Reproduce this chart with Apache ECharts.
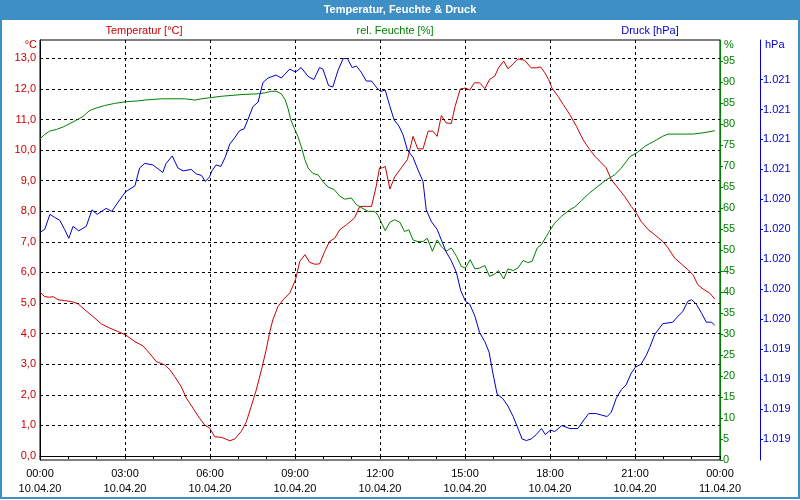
<!DOCTYPE html>
<html>
<head>
<meta charset="utf-8">
<script src="https://cdn.jsdelivr.net/npm/echarts@6/dist/echarts.min.js"></script>
<style>html,body{margin:0;padding:0;background:#fff;}#c{width:800px;height:500px;}</style>
</head>
<body>
<div id="c"></div>
<script>
// minutes after 10.04.20 00:00
const tempMinutes = [0,10,20,28,38,52,66,80,95,112,130,148,165,181,201,218,232,246,264,275,285,299,310,324,338,349,359,370,384,402,412,426,437,447,458,469,479,486,493,504,515,529,541,550,561,571,582,592,603,613,624,635,649,666,677,691,702,712,719,726,731,741,751,765,778,790,800,811,822,832,841,850,860,871,879,890,901,910,920,931,942,952,963,971,982,991,1002,1012,1026,1040,1051,1060,1069,1077,1084,1097,1108,1122,1136,1150,1164,1175,1189,1199,1210,1224,1238,1252,1263,1273,1288,1302,1319,1330,1344,1358,1372,1383,1393,1404,1418,1429];
const tempValues = [5.36,5.21,5.19,5.21,5.11,5.08,5.05,4.98,4.78,4.56,4.32,4.18,4.07,3.96,3.74,3.6,3.36,3.09,2.98,2.82,2.6,2.27,1.89,1.56,1.23,1.01,0.92,0.63,0.61,0.5,0.55,0.8,1.12,1.61,2.16,2.82,3.47,4.02,4.45,4.89,5.11,5.33,5.76,6.36,6.58,6.33,6.27,6.28,6.69,7.01,7.12,7.4,7.56,7.78,8.16,8.16,8.16,8.82,9.42,9.42,9.47,8.73,9.12,9.42,9.69,10.45,10.04,10.04,10.62,10.62,10.45,11.13,10.89,10.87,11.43,12.0,12.03,11.96,12.2,12.2,12.01,12.31,12.42,12.69,12.91,12.66,12.82,12.98,12.94,12.69,12.69,12.72,12.53,12.31,12.03,11.76,11.49,11.16,10.78,10.34,10.02,9.8,9.58,9.42,9.03,8.76,8.49,8.16,7.94,7.67,7.4,7.23,7.01,6.8,6.47,6.28,6.09,5.92,5.6,5.46,5.33,5.13];

const humMinutes = [0,10,20,35,49,63,77,91,105,119,137,158,181,208,222,257,306,310,328,342,356,384,426,462,476,490,500,511,519,525,531,538,546,553,561,568,578,589,599,610,623,635,645,659,670,682,695,709,716,731,741,751,762,772,781,790,800,811,820,831,841,850,860,871,882,892,901,911,921,931,942,952,963,971,982,991,1002,1012,1023,1033,1042,1053,1062,1072,1077,1090,1104,1122,1132,1147,1164,1182,1199,1217,1231,1249,1266,1281,1302,1319,1330,1358,1383,1404,1429];
const humValues = [76.5,77.5,78.3,78.7,79.3,80.1,80.9,81.8,83.2,83.8,84.4,84.9,85.3,85.5,85.7,86.0,86.0,85.7,85.7,86.0,86.2,86.6,87.0,87.2,87.4,87.8,87.8,87.2,85.8,83.8,81.0,79.1,77.1,74.7,71.5,69.5,68.2,67.9,66.3,65.0,64.4,62.8,62.1,62.4,60.8,60.0,59.2,59.2,58.2,54.6,56.6,57.2,56.6,54.4,54.8,52.4,52.0,52.0,52.8,49.7,52.4,50.8,49.7,50.5,48.5,46.1,45.7,47.7,45.5,45.7,46.3,43.7,44.3,45.1,43.1,45.5,45.1,45.7,47.5,47.0,47.3,50.5,51.3,53.2,54.2,56.4,58.0,59.6,60.2,61.8,63.6,65.2,66.7,67.9,69.5,72.2,73.3,74.7,76.0,77.1,77.6,77.6,77.6,77.9,78.4];

const presMinutes = [0,10,21,31,42,52,61,70,82,98,110,121,140,152,165,181,201,211,222,239,260,267,280,292,303,320,331,342,350,359,364,373,383,392,402,412,423,432,440,451,462,472,483,500,511,529,541,553,568,580,592,599,611,620,631,642,651,661,670,680,691,702,712,721,731,741,750,760,769,778,790,800,811,818,829,841,851,860,871,882,891,901,910,921,931,942,951,959,968,980,991,1002,1011,1021,1030,1040,1051,1062,1070,1081,1090,1105,1122,1139,1150,1162,1178,1189,1201,1210,1220,1231,1241,1252,1261,1273,1284,1291,1302,1319,1340,1351,1361,1372,1380,1390,1401,1411,1422,1429];
const presValues = [1020.18,1020.20,1020.30,1020.28,1020.26,1020.20,1020.14,1020.22,1020.19,1020.22,1020.33,1020.30,1020.34,1020.32,1020.38,1020.45,1020.49,1020.61,1020.64,1020.63,1020.58,1020.64,1020.69,1020.61,1020.59,1020.60,1020.57,1020.56,1020.52,1020.55,1020.59,1020.63,1020.62,1020.68,1020.77,1020.81,1020.86,1020.87,1020.93,1021.02,1021.05,1021.18,1021.21,1021.23,1021.21,1021.27,1021.25,1021.28,1021.22,1021.20,1021.28,1021.27,1021.16,1021.15,1021.26,1021.34,1021.34,1021.28,1021.29,1021.25,1021.19,1021.19,1021.15,1021.12,1021.13,1021.02,1020.93,1020.89,1020.83,1020.73,1020.68,1020.60,1020.52,1020.33,1020.25,1020.20,1020.12,1020.05,1019.99,1019.91,1019.79,1019.72,1019.70,1019.62,1019.51,1019.45,1019.38,1019.24,1019.10,1019.07,1019.02,1018.95,1018.88,1018.80,1018.79,1018.80,1018.83,1018.87,1018.83,1018.86,1018.85,1018.89,1018.87,1018.87,1018.92,1018.97,1018.97,1018.96,1018.95,1018.98,1019.07,1019.13,1019.16,1019.24,1019.28,1019.30,1019.36,1019.41,1019.50,1019.57,1019.58,1019.62,1019.65,1019.72,1019.73,1019.70,1019.64,1019.58,1019.58,1019.56];

const tempTicks = [0,1,2,3,4,5,6,7,8,9,10,11,12,13];
const presTicks = [1018.8,1019.0,1019.2,1019.4,1019.6,1019.8,1020.0,1020.2,1020.4,1020.6,1020.8,1021.0,1021.2];
const timeLabels = {0:'00:00\n10.04.20',180:'03:00\n10.04.20',360:'06:00\n10.04.20',540:'09:00\n10.04.20',720:'12:00\n10.04.20',900:'15:00\n10.04.20',1080:'18:00\n10.04.20',1260:'21:00\n10.04.20',1440:'00:00\n11.04.20'};

const zip = (a, b) => a.map((t, i) => [t, b[i]]);
const FONT = 'Liberation Sans';
const RED = '#cc0000', GREEN = '#008000', BLUE = '#0000cc', BAR = '#3d8fc6';

const chart = echarts.init(document.getElementById('c'), null, {renderer: 'canvas'});
chart.setOption({
  animation: false,
  backgroundColor: '#fff',
  grid: {left: 40, right: 80, top: 40, bottom: 40, show: true, borderColor: '#000', borderWidth: 1, containLabel: false},
  graphic: [
    {type: 'rect', shape: {x: 0, y: 0, width: 800, height: 20}, style: {fill: BAR}, silent: true},
    {type: 'rect', shape: {x: 1, y: 0, width: 798, height: 498}, style: {fill: null, stroke: BAR, lineWidth: 2}, silent: true},
    {type: 'text', x: 400, y: 10, style: {text: 'Temperatur, Feuchte & Druck', fill: '#fff', font: 'bold 11px ' + FONT, align: 'center', verticalAlign: 'middle'}},
    {type: 'text', x: 144, y: 31, style: {text: 'Temperatur [°C]', fill: RED, font: '11px ' + FONT, align: 'center', verticalAlign: 'middle'}},
    {type: 'text', x: 395, y: 31, style: {text: 'rel. Feuchte [%]', fill: GREEN, font: '11px ' + FONT, align: 'center', verticalAlign: 'middle'}},
    {type: 'text', x: 650, y: 31, style: {text: 'Druck [hPa]', fill: BLUE, font: '11px ' + FONT, align: 'center', verticalAlign: 'middle'}},
    {type: 'text', x: 37, y: 45, style: {text: '°C', fill: RED, font: '11px ' + FONT, align: 'right', verticalAlign: 'middle'}},
    {type: 'text', x: 724, y: 45, style: {text: '%', fill: GREEN, font: '11px ' + FONT, align: 'left', verticalAlign: 'middle'}},
    {type: 'text', x: 765, y: 45, style: {text: 'hPa', fill: BLUE, font: '11px ' + FONT, align: 'left', verticalAlign: 'middle'}}
  ],
  xAxis: {
    type: 'value', min: 0, max: 1440, interval: 180,
    axisLine: {show: true, lineStyle: {color: '#000', width: 1}},
    axisTick: {show: true, length: 3, lineStyle: {color: '#000'}},
    minorTick: {show: true, splitNumber: 3, length: 3, lineStyle: {color: '#000'}},
    splitLine: {show: true, lineStyle: {color: '#000', type: [3, 3], width: 1}},
    axisLabel: {
      color: '#000', fontFamily: FONT, fontSize: 11, lineHeight: 15, margin: 6,
      showMinLabel: true, showMaxLabel: true, hideOverlap: false,
      formatter: v => timeLabels[Math.round(v)] || ''
    }
  },
  yAxis: [
    {
      type: 'value', position: 'left', min: -0.131, max: 13.6,
      axisLine: {show: true, onZero: false, lineStyle: {color: '#000', width: 1}},
      axisTick: {show: false, customValues: tempTicks},
      splitLine: {show: true, lineStyle: {color: '#000', type: [3, 3], width: 1}},
      axisLabel: {customValues: tempTicks, color: RED, fontFamily: FONT, fontSize: 11, margin: 4,
        formatter: v => v.toFixed(1).replace('.', ',')}
    },
    {
      type: 'value', position: 'right', min: 0, max: 100, interval: 5,
      axisLine: {show: true, onZero: false, lineStyle: {color: GREEN, width: 1}},
      axisTick: {show: true, length: 3, lineStyle: {color: GREEN}},
      splitLine: {show: false},
      axisLabel: {color: GREEN, fontFamily: FONT, fontSize: 11, margin: 3, showMaxLabel: false,
        formatter: v => String(Math.round(v))}
    },
    {
      type: 'value', position: 'right', offset: 40, min: 1018.66, max: 1021.464,
      axisLine: {show: true, onZero: false, lineStyle: {color: BLUE, width: 1}},
      axisTick: {show: true, length: 3, customValues: presTicks, lineStyle: {color: BLUE}},
      splitLine: {show: false},
      axisLabel: {customValues: presTicks, color: BLUE, fontFamily: FONT, fontSize: 11, margin: 3,
        formatter: v => (Math.round(v) / 1000).toFixed(3)}
    }
  ],
  series: [
    {name: 'Temperatur', type: 'line', yAxisIndex: 0, data: zip(tempMinutes, tempValues), showSymbol: false, symbol: 'none', lineStyle: {color: RED, width: 1}, itemStyle: {color: RED}},
    {name: 'Feuchte', type: 'line', yAxisIndex: 1, data: zip(humMinutes, humValues), showSymbol: false, symbol: 'none', lineStyle: {color: GREEN, width: 1}, itemStyle: {color: GREEN}},
    {name: 'Druck', type: 'line', yAxisIndex: 2, data: zip(presMinutes, presValues), showSymbol: false, symbol: 'none', lineStyle: {color: BLUE, width: 1}, itemStyle: {color: BLUE}}
  ]
});
</script>
</body>
</html>
